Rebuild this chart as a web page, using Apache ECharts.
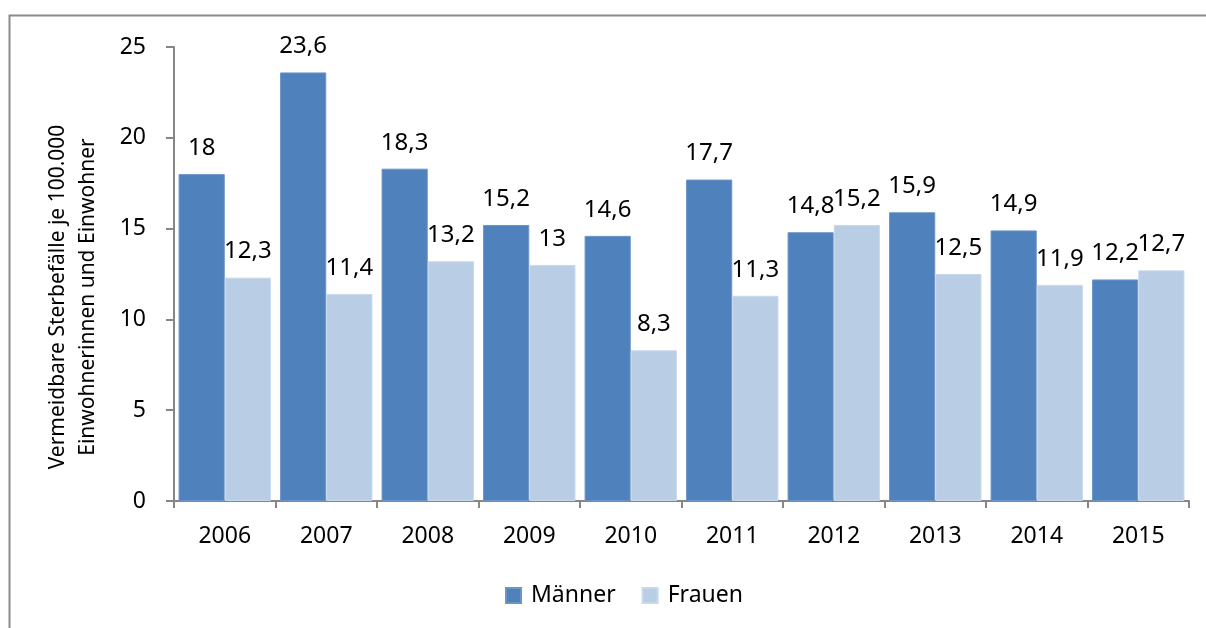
<!DOCTYPE html>
<html lang="de">
<head>
<meta charset="UTF-8">
<title>Vermeidbare Sterbefälle</title>
<script src="https://cdn.jsdelivr.net/npm/echarts@6/dist/echarts.min.js"></script>
<style>
  html, body { margin: 0; padding: 0; background: #fff; }
  #chart { width: 1206px; height: 628px; }
</style>
</head>
<body>
<div id="chart"></div>
<script>
var years = ['2006', '2007', '2008', '2009', '2010', '2011', '2012', '2013', '2014', '2015'];
var maenner = [18, 23.6, 18.3, 15.2, 14.6, 17.7, 14.8, 15.9, 14.9, 12.2];
var frauen = [12.3, 11.4, 13.2, 13, 8.3, 11.3, 15.2, 12.5, 11.9, 12.7];
var yTicks = [0, 5, 10, 15, 20, 25];

var font = 'Noto Sans';
var axisGray = '#868686';

function komma(p) {
  return String(p.value).replace('.', ',');
}

var chart = echarts.init(document.getElementById('chart'));

var option = {
  backgroundColor: '#fff',
  animation: false,
  textStyle: { fontFamily: font, color: '#000' },
  grid: { left: 174, top: 47, right: 17, bottom: 127 },
  legend: {
    bottom: 16,
    left: 500,
    itemWidth: 15,
    itemHeight: 15,
    itemGap: 26,
    icon: 'rect',
    textStyle: { fontFamily: font, fontSize: 23, color: '#000', padding: [0, 0, 0, 5] },
    data: ['Männer', 'Frauen']
  },
  xAxis: {
    type: 'category',
    data: years,
    axisLine: { lineStyle: { color: axisGray, width: 2 } },
    axisTick: { show: true, length: 7, lineStyle: { color: axisGray, width: 2 } },
    axisLabel: { margin: 24, fontSize: 23, color: '#000', fontFamily: font },
    splitLine: { show: false }
  },
  yAxis: {
    type: 'value',
    min: yTicks[0],
    max: yTicks[yTicks.length - 1],
    interval: 5,
    axisLine: { show: true, lineStyle: { color: axisGray, width: 2 } },
    axisTick: { show: true, length: 8, lineStyle: { color: axisGray, width: 2 } },
    axisLabel: { margin: 28, fontSize: 23, color: '#000', fontFamily: font },
    splitLine: { show: false }
  },
  series: [
    {
      name: 'Männer',
      type: 'bar',
      data: maenner,
      barGap: '0%',
      barCategoryGap: '9%',
      itemStyle: { color: '#4F81BD', borderColor: '#6B95C8', borderWidth: 1 },
      label: { show: true, position: 'top', distance: 14, fontSize: 24, color: '#000', fontFamily: font, formatter: komma }
    },
    {
      name: 'Frauen',
      type: 'bar',
      data: frauen,
      itemStyle: { color: '#B9CDE5', borderColor: '#C8D8EC', borderWidth: 1 },
      label: { show: true, position: 'top', distance: 14, fontSize: 24, color: '#000', fontFamily: font, formatter: komma }
    }
  ],
  graphic: [
    {
      type: 'rect',
      shape: { x: 9.5, y: 15.5, width: 1400, height: 800 },
      style: { fill: null, stroke: '#8a8a8a', lineWidth: 2 },
      silent: true
    },
    {
      type: 'text',
      x: 73,
      y: 297,
      rotation: Math.PI / 2,
      style: {
        text: 'Vermeidbare Sterbefälle je 100.000\nEinwohnerinnen und Einwohner',
        fontFamily: font,
        fontSize: 21,
        lineHeight: 30,
        fill: '#000',
        align: 'center',
        verticalAlign: 'middle'
      }
    }
  ]
};

chart.setOption(option);
</script>
</body>
</html>
